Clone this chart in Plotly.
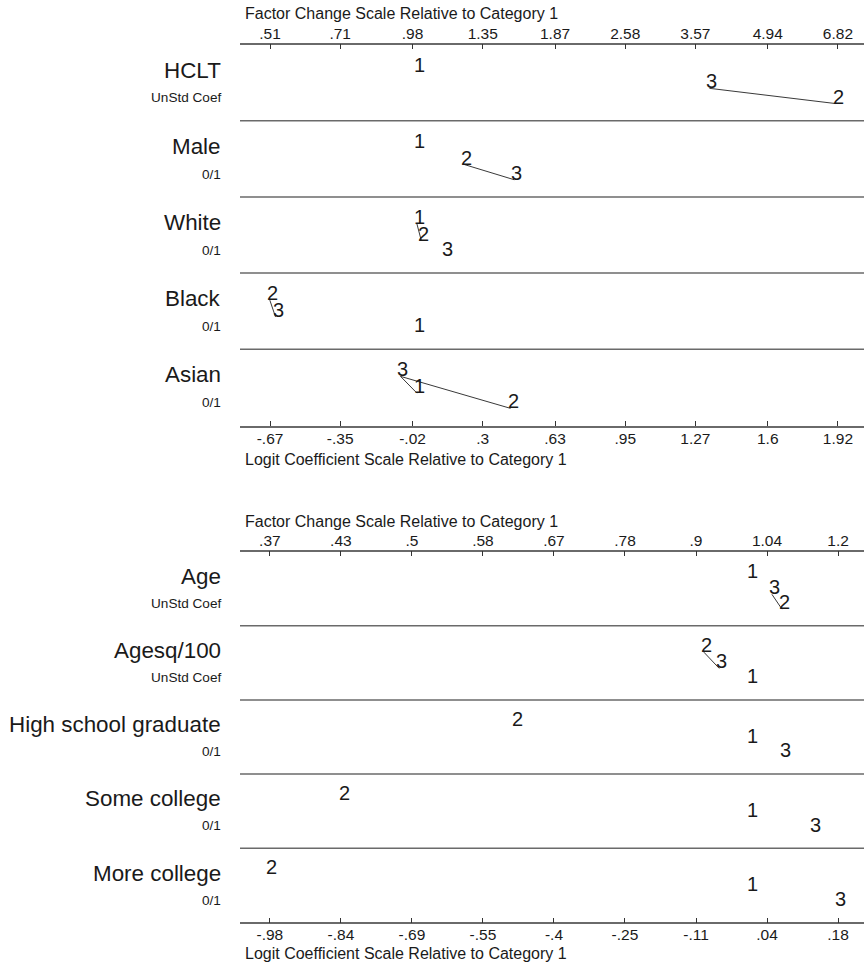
import plotly.graph_objects as go

# ---------------- data (logit coefficients relative to category 1) ----------------
vars_top = ["HCLT", "Male", "White", "Black", "Asian"]
units_top = ["UnStd Coef", "0/1", "0/1", "0/1", "0/1"]
cat1_top = [0.0, 0.0, 0.0, 0.0, 0.0]
cat2_top = [1.909, 0.216, 0.020, -0.671, 0.427]
cat3_top = [1.334, 0.444, 0.128, -0.645, -0.075]
links_top = [[(3, 2)], [(2, 3)], [(1, 2)], [(2, 3)], [(3, 1), (3, 2)]]

logit_ticks_top = [-0.67, -0.35, -0.02, 0.30, 0.63, 0.95, 1.27, 1.60, 1.92]
logit_labels_top = ["-.67", "-.35", "-.02", ".3", ".63", ".95", "1.27", "1.6", "1.92"]
factor_labels_top = [".51", ".71", ".98", "1.35", "1.87", "2.58", "3.57", "4.94", "6.82"]

vars_bot = ["Age", "Agesq/100", "High school graduate", "Some college", "More college"]
units_bot = ["UnStd Coef", "UnStd Coef", "0/1", "0/1", "0/1"]
cat1_bot = [0.0, 0.0, 0.0, 0.0, 0.0]
cat2_bot = [0.0655, -0.094, -0.479, -0.832, -0.981]
cat3_bot = [0.045, -0.0625, 0.0686, 0.128, 0.179]
links_bot = [[(3, 2)], [(2, 3)], [], [], []]

logit_ticks_bot = [-0.98, -0.835, -0.69, -0.545, -0.40, -0.255, -0.11, 0.035, 0.18]
logit_labels_bot = ["-.98", "-.84", "-.69", "-.55", "-.4", "-.25", "-.11", ".04", ".18"]
factor_labels_bot = [".37", ".43", ".5", ".58", ".67", ".78", ".9", "1.04", "1.2"]

top_title = "Factor Change Scale Relative to Category 1"
bottom_title = "Logit Coefficient Scale Relative to Category 1"

# ---------------- layout constants ----------------
W, H = 864, 966
FONT = "Liberation Sans, Arial, sans-serif"
TXT = "#1a1a1a"
SEP = "#6a6a6a"
X0 = 240 / W
rank_offsets = [0.355, 0.575, 0.775]

fig = go.Figure()
annotations = []
shapes = []


def panel(vars_, units, c1, c2, c3, links, xa, ya, yref, dom_top_px, dom_bot_px, bot_title_off):
    n = len(vars_)
    for i in range(n):
        vals = {1: c1[i], 2: c2[i], 3: c3[i]}
        order = sorted(vals, key=lambda k: vals[k])
        ypos = {c: i + rank_offsets[r] for r, c in enumerate(order)}
        for a, b in links[i]:
            fig.add_trace(go.Scatter(
                x=[vals[a], vals[b]], y=[ypos[a], ypos[b]], mode="lines",
                line=dict(color="#222222", width=0.9), xaxis=xa, yaxis=ya,
                showlegend=False, hoverinfo="skip"))
        for c in (1, 2, 3):
            annotations.append(dict(
                x=vals[c], y=ypos[c], xref=xa, yref=yref, text=str(c),
                showarrow=False, xanchor="left", yanchor="bottom",
                xshift=-5, yshift=-6, font=dict(family=FONT, size=20, color=TXT)))
        annotations.append(dict(
            x=223 / W, y=i + 0.335, xref="paper", yref=yref, text=vars_[i],
            showarrow=False, xanchor="right", yanchor="middle",
            font=dict(family=FONT, size=22.4, color=TXT)))
        annotations.append(dict(
            x=223 / W, y=i + 0.70, xref="paper", yref=yref, text=units[i],
            showarrow=False, xanchor="right", yanchor="middle",
            font=dict(family=FONT, size=13.6, color=TXT)))
    for k in range(1, n):
        shapes.append(dict(type="line", xref="paper", x0=X0, x1=1, yref=yref,
                           y0=k, y1=k, line=dict(color=SEP, width=1.5)))
    # axis titles
    annotations.append(dict(x=243 / W, y=1 - (dom_top_px - 30.5) / H, xref="paper", yref="paper",
                            text=top_title, showarrow=False, xanchor="left", yanchor="middle",
                            font=dict(family=FONT, size=16, color=TXT)))
    annotations.append(dict(x=243 / W, y=1 - (dom_bot_px + bot_title_off) / H, xref="paper", yref="paper",
                            text=bottom_title, showarrow=False, xanchor="left", yanchor="middle",
                            font=dict(family=FONT, size=16, color=TXT)))


p1_top, p1_bot = 44.5, 425.5
p2_top, p2_bot = 551.7, 922.3

panel(vars_top, units_top, cat1_top, cat2_top, cat3_top, links_top, "x", "y", "y", p1_top, p1_bot, 34)
panel(vars_bot, units_bot, cat1_bot, cat2_bot, cat3_bot, links_bot, "x3", "y2", "y2", p2_top, p2_bot, 31)

# invisible traces so overlay top axes get drawn
fig.add_trace(go.Scatter(x=[logit_ticks_top[0]], y=[0], xaxis="x2", yaxis="y", mode="markers",
                         marker=dict(opacity=0), showlegend=False, hoverinfo="skip"))
fig.add_trace(go.Scatter(x=[logit_ticks_bot[0]], y=[0], xaxis="x4", yaxis="y2", mode="markers",
                         marker=dict(opacity=0), showlegend=False, hoverinfo="skip"))

axis_common = dict(showgrid=False, zeroline=False, showline=True, linecolor=SEP, linewidth=1.5,
                   ticks="inside", ticklen=5, tickwidth=1, tickcolor="#333333",
                   tickfont=dict(family=FONT, size=15.5, color=TXT), fixedrange=True)

r1 = [-0.807, 2.039]
r2 = [-1.041, 0.233]

fig.update_layout(
    width=W, height=H,
    margin=dict(l=0, r=0, t=0, b=0),
    paper_bgcolor="white", plot_bgcolor="white",
    showlegend=False,
    xaxis=dict(domain=[X0, 1], anchor="y", range=r1, tickvals=logit_ticks_top,
               ticktext=logit_labels_top, side="bottom", ticklabelstandoff=-2, **axis_common),
    xaxis2=dict(domain=[X0, 1], anchor="y", overlaying="x", range=r1, tickvals=logit_ticks_top,
                ticktext=factor_labels_top, side="top", ticklabelstandoff=-2, **axis_common),
    xaxis3=dict(domain=[X0, 1], anchor="y2", range=r2, tickvals=logit_ticks_bot,
                ticktext=logit_labels_bot, side="bottom", ticklabelstandoff=-3, **axis_common),
    xaxis4=dict(domain=[X0, 1], anchor="y2", overlaying="x3", range=r2, tickvals=logit_ticks_bot,
                ticktext=factor_labels_bot, side="top", ticklabelstandoff=-2, **axis_common),
    yaxis=dict(domain=[1 - p1_bot / H, 1 - p1_top / H], range=[5, 0], visible=False, fixedrange=True),
    yaxis2=dict(domain=[1 - p2_bot / H, 1 - p2_top / H], range=[5, 0], visible=False, fixedrange=True),
    annotations=annotations,
    shapes=shapes,
)

fig.write_html("out.html", config={"displayModeBar": False},
               post_script="document.body.style.margin='0';document.body.style.overflow='hidden';")
